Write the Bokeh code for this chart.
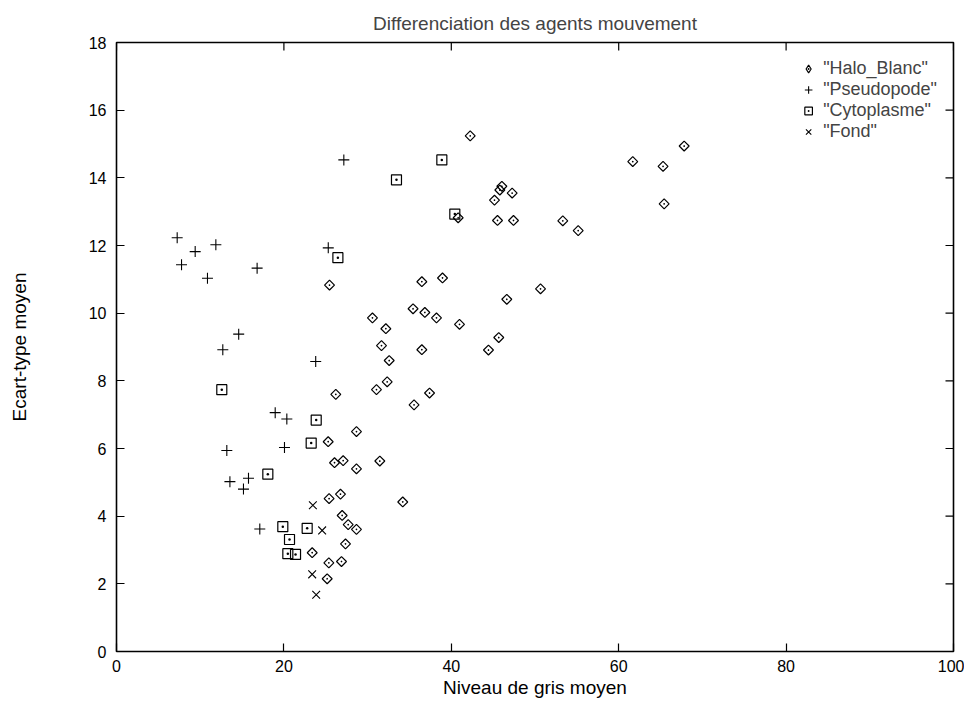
import numpy as np
from bokeh.plotting import figure
from bokeh.models import (LinearAxis, Range1d, Legend, LegendItem, FixedTicker,
                          ColumnDataSource)
from bokeh.embed import file_html
from bokeh.resources import INLINE

# ---- data ----
halo_x = [25.45, 26.2, 31.06, 28.67, 25.29, 26.05, 27.08, 28.67, 31.46, 25.4, 26.76, 26.96,
          27.68, 28.67, 27.36, 23.38, 25.37, 26.88, 25.17,
          42.26, 46.04, 45.80, 47.27, 45.16, 40.82, 45.52, 47.43, 36.48, 38.95, 50.66, 46.63,
          35.43, 36.84, 38.23, 30.58, 40.98, 32.18, 45.67, 31.66, 36.48, 44.44, 32.58, 32.34,
          37.4, 35.55, 67.82, 61.68, 65.3, 65.43, 53.32, 55.16, 34.2]
halo_y = [10.83, 7.60, 7.74, 6.50, 6.20, 5.58, 5.64, 5.40, 5.63, 4.52, 4.65, 4.02,
          3.75, 3.61, 3.18, 2.92, 2.62, 2.66, 2.15,
          15.24, 13.75, 13.64, 13.55, 13.34, 12.82, 12.74, 12.74, 10.93, 11.04, 10.72, 10.41,
          10.13, 10.02, 9.86, 9.86, 9.67, 9.54, 9.28, 9.04, 8.92, 8.91, 8.60, 7.97,
          7.64, 7.29, 14.94, 14.48, 14.34, 13.23, 12.73, 12.44, 4.42]

pseudo_x = [7.25, 9.4, 11.87, 7.77, 10.87, 16.8, 25.3, 14.6, 12.7, 23.8, 18.96, 20.35,
            13.18, 20.07, 15.77, 13.55, 15.17, 17.12, 27.16]
pseudo_y = [12.23, 11.82, 12.02, 11.43, 11.03, 11.33, 11.93, 9.38, 8.92, 8.57, 7.06, 6.87,
            5.94, 6.03, 5.12, 5.02, 4.80, 3.62, 14.53]

cyto_x = [26.45, 12.58, 23.86, 23.26, 18.08, 19.87, 22.78, 20.67, 20.47, 21.39, 38.87, 33.45, 40.42]
cyto_y = [11.64, 7.74, 6.84, 6.16, 5.24, 3.69, 3.64, 3.31, 2.89, 2.87, 14.53, 13.94, 12.93]

fond_x = [23.46, 24.57, 23.38, 23.86]
fond_y = [4.32, 3.58, 2.28, 1.68]

x_ticks = [0, 20, 40, 60, 80, 100]
y_ticks = [0, 2, 4, 6, 8, 10, 12, 14, 16, 18]
X_MAX = 100
Y_MAX = 18

FONT = "Liberation Sans"
TICK_FS = "16px"
FS = "19px"
LEG_FS = "18px"

p = figure(frame_width=837, frame_height=609, output_backend="svg", toolbar_location=None,
           x_range=Range1d(0, X_MAX), y_range=Range1d(0, Y_MAX),
           min_border_left=116, min_border_right=11, min_border_top=42, min_border_bottom=10,
           x_axis_location=None, y_axis_location=None)
p.grid.visible = False
p.outline_line_color = "black"
p.outline_line_width = 1.6
p.background_fill_color = "white"
p.border_fill_color = "white"

p.title.text = "Differenciation des agents mouvement"
p.title.align = "center"
p.title.text_font = FONT
p.title.text_font_size = FS
p.title.text_font_style = "normal"
p.title.standoff = 18


def style_axis(ax):
    ax.axis_line_color = None
    ax.major_tick_in = 8
    ax.major_tick_out = 0
    ax.minor_tick_in = 0
    ax.minor_tick_out = 0
    ax.major_tick_line_color = "black"
    ax.major_tick_line_width = 1.2
    ax.major_label_text_font = FONT
    ax.major_label_text_font_size = TICK_FS
    ax.major_label_text_color = "black"
    ax.axis_label_text_font = FONT
    ax.axis_label_text_font_size = FS
    ax.axis_label_text_font_style = "normal"
    ax.axis_label_text_color = "black"


xb = LinearAxis(ticker=FixedTicker(ticks=x_ticks), axis_label="Niveau de gris moyen")
style_axis(xb)
xb.major_label_standoff = 8
xb.axis_label_standoff = 2
p.add_layout(xb, "below")

yl = LinearAxis(ticker=FixedTicker(ticks=y_ticks), axis_label="Ecart-type moyen")
style_axis(yl)
yl.major_label_standoff = 10
yl.axis_label_standoff = 56
p.add_layout(yl, "left")

# mirrored ticks on the top and right edges (gnuplot style)
p.ray(x=x_ticks, y=[Y_MAX] * len(x_ticks), length=8, length_units="screen",
      angle=-np.pi / 2, line_color="black", line_width=1.2)
p.ray(x=[X_MAX] * len(y_ticks), y=y_ticks, length=8, length_units="screen",
      angle=np.pi, line_color="black", line_width=1.2)

halo_src = ColumnDataSource(data=dict(x=halo_x, y=halo_y))
r1 = p.scatter("x", "y", source=halo_src, marker="square_dot", angle=np.pi / 4, size=7,
               fill_color=None, line_color="black", line_width=1.2)
r2 = p.scatter(pseudo_x, pseudo_y, marker="cross", size=11,
               line_color="black", line_width=1.1)
r3 = p.scatter(cyto_x, cyto_y, marker="square_dot", size=10,
               fill_color=None, line_color="black", line_width=1.2)
r4 = p.scatter(fond_x, fond_y, marker="x", size=11,
               line_color="black", line_width=1.1)
# hidden renderer used only for the legend's diamond symbol
# (legend glyphs ignore marker rotation)
r1_leg = p.scatter("x", "y", source=halo_src, marker="diamond_dot", size=12,
                   fill_color=None, line_color="black", line_width=1.2, visible=False)

legend = Legend(items=[
    LegendItem(label='"Halo_Blanc"', renderers=[r1_leg]),
    LegendItem(label='"Pseudopode"', renderers=[r2]),
    LegendItem(label='"Cytoplasme"', renderers=[r3]),
    LegendItem(label='"Fond"', renderers=[r4]),
], location="top_right")
legend.border_line_color = None
legend.background_fill_alpha = 0
legend.inactive_fill_alpha = 0
legend.label_text_font = FONT
legend.label_text_font_size = LEG_FS
legend.spacing = -2
legend.label_height = 19
legend.glyph_height = 19
legend.padding = 4
legend.margin = 16
p.add_layout(legend)

open("out.html", "w").write(file_html(p, INLINE))
